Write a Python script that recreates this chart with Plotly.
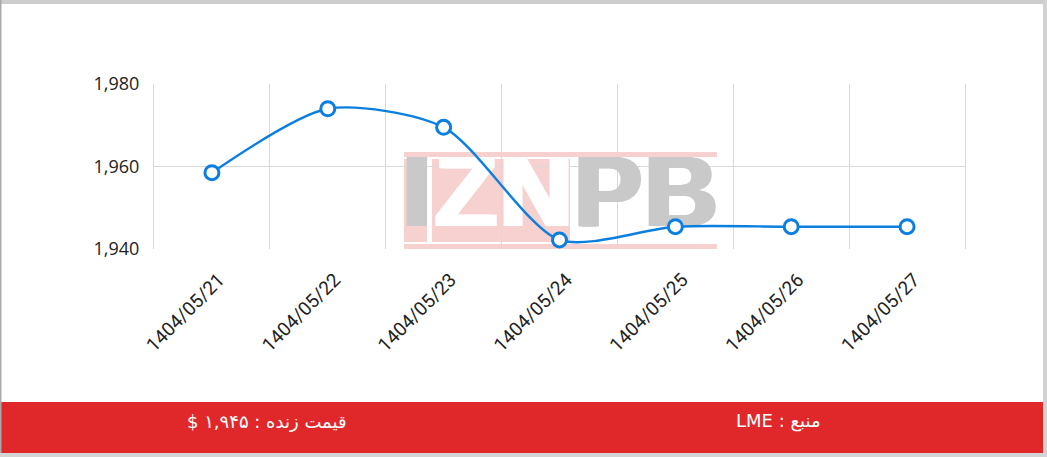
import plotly.graph_objects as go

# ---- data ----
dates = ["1404/05/21", "1404/05/22", "1404/05/23", "1404/05/24",
         "1404/05/25", "1404/05/26", "1404/05/27"]
prices = [1958.5, 1974.0, 1969.5, 1942.2, 1945.4, 1945.4, 1945.4]
y_ticks = [1940, 1960, 1980]
y_tick_text = ["1,940", "1,960", "1,980"]
footer_price = "$ ۱,۹۴۵ : قیمت زنده"
footer_source = "LME : منبع"
wm_gray_letters = ["I", "P", "B"]
wm_white_letters = ["Z", "N"]

# ---- layout geometry (pixels) ----
W, H = 1047, 457
L, R, T, B = 154, 965, 84, 249
n = len(dates)
xr = [-0.5, n - 0.5]
yr = [1940, 1980]

def px_x(p):  # pixel -> paper x
    return (p - L) / (R - L)

def px_y(p):  # pixel -> paper y
    return (B - p) / (B - T)

def dx(p):  # pixel -> data x
    return xr[0] + (p - L) / (R - L) * (xr[1] - xr[0])

def dy(p):  # pixel -> data y
    return yr[0] + (B - p) / (B - T) * (yr[1] - yr[0])

blue = "#0b7fe0"
gray_wm = "#c9c9c9"
fig = go.Figure()

# watermark letters (drawn beneath the line)
for letters, pxs, col in [(wm_gray_letters, [417, 608, 681], gray_wm),
                          (wm_white_letters, [466, 536], "#ffffff")]:
    fig.add_trace(go.Scatter(
        x=[dx(p) for p in pxs], y=[dy(201)] * len(pxs),
        mode="text", text=letters,
        textfont=dict(family="Liberation Sans", size=100, color=col, weight="bold",
                      shadow=f"3px 0px 0px {col}, -3px 0px 0px {col}"),
        textposition="middle center", hoverinfo="skip", showlegend=False))

fig.add_trace(go.Scatter(
    x=list(range(n)), y=prices, mode="lines+markers",
    line=dict(color=blue, width=2.4, shape="spline", smoothing=0.75),
    marker=dict(size=14, color="white", line=dict(color=blue, width=3)),
    showlegend=False, hoverinfo="skip"))

shapes = []
pink = "#f7d0d0"
for (x0, x1, y0, y1) in [(404, 717, 152, 157), (404, 717, 244, 249),
                         (404, 427, 159, 242), (432, 570, 159, 242)]:
    shapes.append(dict(type="rect", xref="paper", yref="paper", layer="below",
                       x0=px_x(x0), x1=px_x(x1), y0=px_y(y1), y1=px_y(y0),
                       fillcolor=pink, line=dict(width=0)))
# footer bar
shapes.append(dict(type="rect", xref="paper", yref="paper",
                   x0=px_x(1), x1=px_x(1043), y0=px_y(453), y1=px_y(402),
                   fillcolor="#e0282a", line=dict(width=0)))
# page frame
for (x0, x1, y0, y1, c) in [(0, W, 0, 4, "#cdcdcd"), (0, 1.5, 0, H, "#a9a9a9"),
                            (1043, W, 0, H, "#d2d2d2"), (0, W, 453, H, "#d4d4d4")]:
    shapes.append(dict(type="rect", xref="paper", yref="paper",
                       x0=px_x(x0), x1=px_x(x1), y0=px_y(y1), y1=px_y(y0),
                       fillcolor=c, line=dict(width=0)))

annotations = [
    dict(text=footer_price, xref="paper", yref="paper", x=px_x(267), y=px_y(421),
         showarrow=False, font=dict(family="DejaVu Sans", size=18, color="white"),
         xanchor="center", yanchor="middle"),
    dict(text=footer_source, xref="paper", yref="paper", x=px_x(778), y=px_y(421),
         showarrow=False, font=dict(family="DejaVu Sans", size=18, color="white"),
         xanchor="center", yanchor="middle"),
]

grid = "#d9d9d9"
fig.update_layout(
    width=W, height=H,
    margin=dict(l=L, r=W - R, t=T, b=H - B),
    paper_bgcolor="white", plot_bgcolor="white",
    shapes=shapes, annotations=annotations,
    xaxis=dict(range=xr, tickmode="array", tickvals=list(range(n)), ticktext=dates,
               tickangle=-45, showgrid=False, zeroline=False, showline=False,
               ticks="", tickfont=dict(family="Roboto", size=19, color="#222"),
               ticklabelshift=7, ticklabelstandoff=15,
               minor=dict(tickmode="array", tickvals=[i - 0.5 for i in range(n + 1)],
                          showgrid=True, gridcolor=grid, gridwidth=1, ticks="")),
    yaxis=dict(range=yr, tickmode="array", tickvals=y_ticks, ticktext=y_tick_text,
               showgrid=True, gridcolor=grid, gridwidth=1, zeroline=False,
               showline=True, mirror=True, linecolor=grid, linewidth=1,
               ticks="", ticklabelstandoff=10,
               tickfont=dict(family="Open Sans", size=18, color="#222")),
)

fig.write_html("out.html", config={"displayModeBar": False},
               post_script="document.body.style.margin='0';")
